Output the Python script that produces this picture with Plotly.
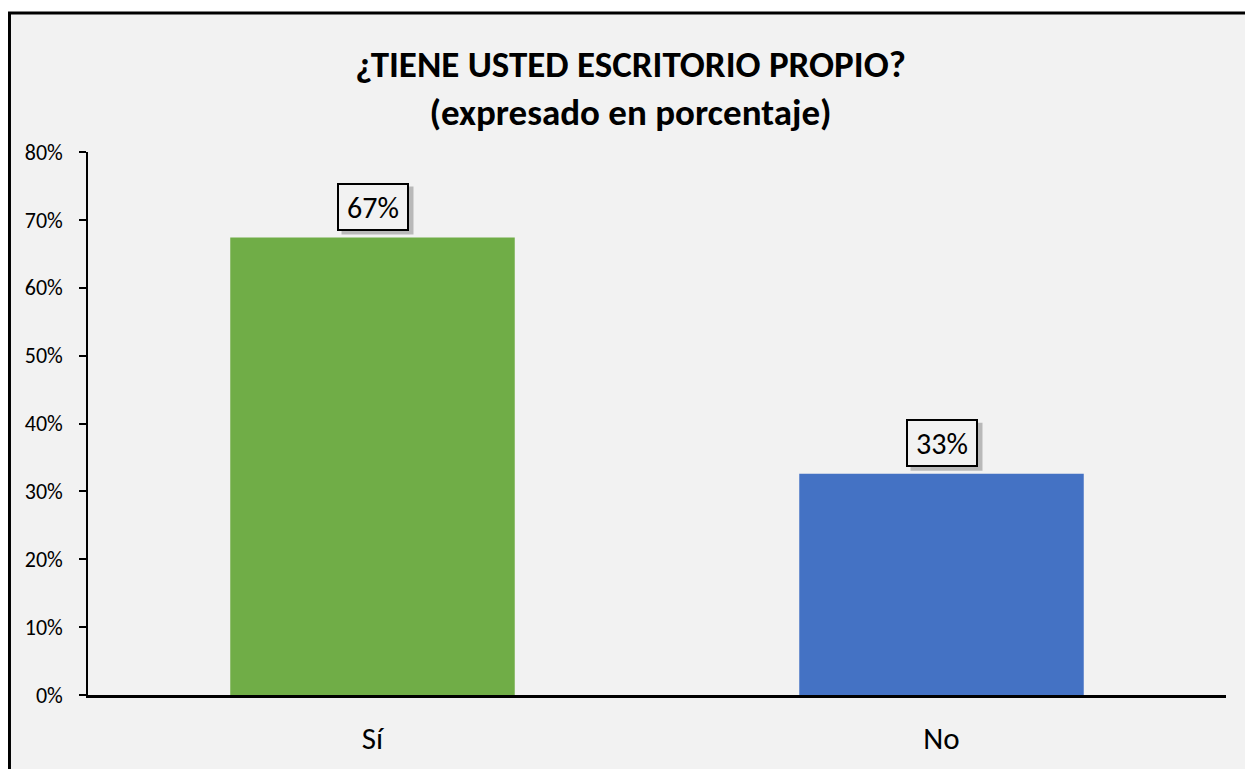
import plotly.graph_objects as go

categorias = ["Sí", "No"]
porcentajes = [67.4, 32.6]
colores = ["#70ad47", "#4472c4"]
ticks_y = [0, 10, 20, 30, 40, 50, 60, 70, 80]

fuente = "Carlito, Calibri, sans-serif"

fig = go.Figure()
fig.add_trace(go.Bar(
    x=categorias,
    y=porcentajes,
    marker=dict(color=colores, line=dict(width=0)),
    hoverinfo="x+y",
))

# etiquetas de datos con recuadro y sombra
for i, (cat, val) in enumerate(zip(categorias, porcentajes)):
    etiqueta = f"{round(val)}%"
    # sombra del recuadro (en píxeles respecto a la punta de la barra)
    fig.add_shape(type="rect", xref="x", yref="y",
                  xsizemode="pixel", ysizemode="pixel", xanchor=i, yanchor=val,
                  x0=-31, x1=41, y0=3, y1=51,
                  line=dict(width=0), fillcolor="rgba(80,80,80,0.35)", layer="above")
    fig.add_annotation(x=cat, y=val, text=etiqueta, showarrow=False,
                       yanchor="bottom", yshift=7, width=64, height=40,
                       font=dict(family=fuente, size=30, color="black"),
                       bgcolor="#f2f2f2", bordercolor="black", borderwidth=2, borderpad=2)

# marco del gráfico
fig.add_shape(type="rect", xref="paper", yref="paper",
              x0=-0.069, x1=1.06, y0=-0.3, y1=1.256,
              line=dict(color="black", width=3), fillcolor="#f2f2f2", layer="below")

fig.update_layout(
    width=1245, height=761,
    margin=dict(l=80, r=27, t=144, b=68),
    paper_bgcolor="white",
    plot_bgcolor="#f2f2f2",
    bargap=0.5,
    showlegend=False,
    font=dict(family=fuente, color="black"),
    title=dict(text="<b>¿TIENE USTED ESCRITORIO PROPIO?<br>(expresado en porcentaje)</b>",
               x=0.5, xanchor="center", y=0.909, yanchor="middle", yref="container",
               font=dict(family=fuente, size=37, color="black")),
)
fig.update_yaxes(range=[0, 80], tickvals=ticks_y, ticktext=[f"{t}%" for t in ticks_y],
                 showgrid=False, zeroline=False, showline=True, linecolor="black", linewidth=1.5,
                 ticks="outside", ticklen=7, tickcolor="black", tickwidth=1.5,
                 tickfont=dict(family=fuente, size=22, color="black"), ticklabelstandoff=12)
fig.update_xaxes(showgrid=False, showline=True, linecolor="black", linewidth=2.5,
                 ticks="", tickfont=dict(family=fuente, size=31, color="black"),
                 ticklabelstandoff=14)

fig.write_html("out.html")
